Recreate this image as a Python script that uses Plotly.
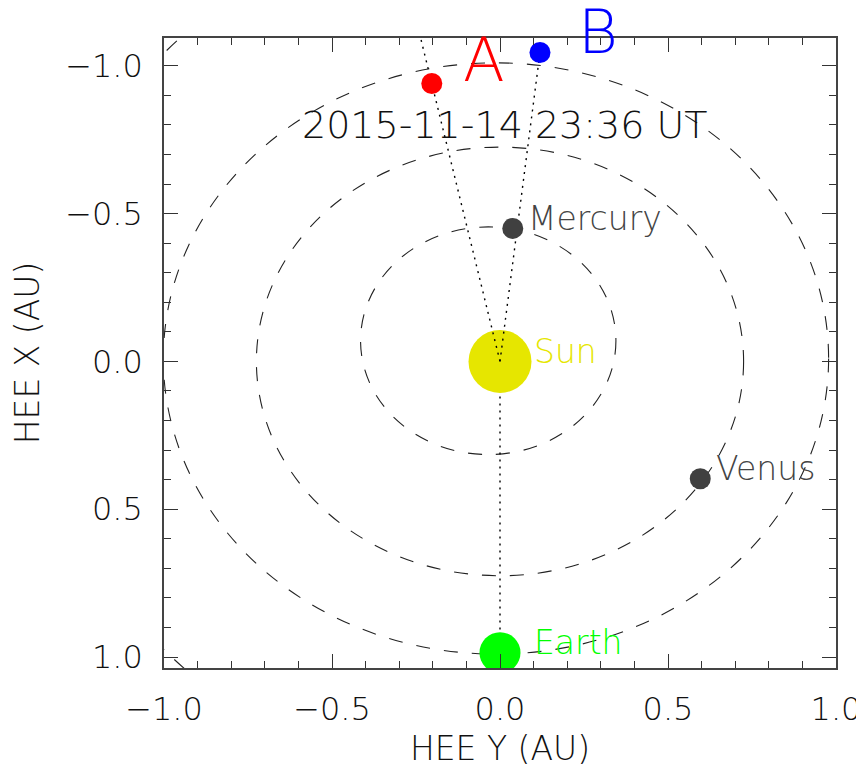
import plotly.graph_objects as go

# ---- data (HEE coordinates, AU) ----
body_names = ["Sun", "Mercury", "Venus", "Earth"]
body_hee_y = [0.0, 0.038, 0.596, 0.0]
body_hee_x = [0.0, -0.450, 0.397, 0.985]

craft_names = ["A", "B"]
craft_hee_y = [-0.203, 0.119]
craft_hee_x = [-0.940, -1.045]

orbit_names = ["Mercury", "Venus", "Earth", "Mars"]
orbit_center_y = [-0.035, 0.0, -0.012, 0.138]
orbit_center_x = [-0.070, 0.0, -0.010, -0.034]
orbit_radius_y = [0.380, 0.725, 0.990, 1.524]
orbit_radius_x = [0.385, 0.725, 1.000, 1.517]

date_label = "2015-11-14 23:36 UT"
tick_vals = [-1.0, -0.5, 0.0, 0.5, 1.0]

# ---- styles ----
FONT = "DejaVu Sans"
WEIGHT = 200
body_colors = ["#e6e600", "#404040", "#404040", "#00ff00"]
body_sizes = [63, 21, 21, 41]
label_colors = ["#e6e600", "#444444", "#444444", "#00ff00"]
label_xshift = [32, 13, 14, 32]
craft_colors = ["#ff0000", "#0000ff"]
craft_label_xshift = [52, 58]
craft_label_yshift = [24, 21]

fig = go.Figure()

# Sun-Earth line (under the Sun)
e = body_names.index("Earth")
fig.add_trace(go.Scatter(x=[0, body_hee_y[e]], y=[0, body_hee_x[e]], mode="lines",
                         line=dict(color="black", width=1.4, dash="2px,5px"),
                         hoverinfo="skip", showlegend=False))

# Sun and Earth
for i in (0, 3):
    fig.add_trace(go.Scatter(x=[body_hee_y[i]], y=[body_hee_x[i]], mode="markers",
                             marker=dict(size=body_sizes[i], color=body_colors[i], line=dict(width=0)),
                             showlegend=False))

# Sun-spacecraft lines (extended beyond the spacecraft, clipped by the axes)
ext = [1.3, 1.0]
for k in range(len(craft_names)):
    fig.add_trace(go.Scatter(x=[0, craft_hee_y[k] * ext[k]], y=[0, craft_hee_x[k] * ext[k]],
                             mode="lines", line=dict(color="black", width=1.4, dash="2px,5px"),
                             hoverinfo="skip", showlegend=False))

# Mercury and Venus
for i in (1, 2):
    fig.add_trace(go.Scatter(x=[body_hee_y[i]], y=[body_hee_x[i]], mode="markers",
                             marker=dict(size=body_sizes[i], color=body_colors[i], line=dict(width=0)),
                             showlegend=False))

# spacecraft
for k in range(len(craft_names)):
    fig.add_trace(go.Scatter(x=[craft_hee_y[k]], y=[craft_hee_x[k]], mode="markers",
                             marker=dict(size=21, color=craft_colors[k], line=dict(width=0)),
                             cliponaxis=False, showlegend=False))

# orbits
shapes = []
for j in range(len(orbit_names)):
    shapes.append(dict(type="circle", xref="x", yref="y", layer="below",
                       x0=orbit_center_y[j] - orbit_radius_y[j], x1=orbit_center_y[j] + orbit_radius_y[j],
                       y0=orbit_center_x[j] - orbit_radius_x[j], y1=orbit_center_x[j] + orbit_radius_x[j],
                       line=dict(color="#222222", width=1.1, dash="14px,14px")))

annotations = []
for i, name in enumerate(body_names):
    annotations.append(dict(x=body_hee_y[i], y=body_hee_x[i], xref="x", yref="y", text=name,
                            showarrow=False, xanchor="left", yanchor="middle",
                            xshift=label_xshift[i], yshift=10,
                            font=dict(family=FONT, size=33, color=label_colors[i], weight=WEIGHT)))
for k, name in enumerate(craft_names):
    annotations.append(dict(x=craft_hee_y[k], y=craft_hee_x[k], xref="x", yref="y", text=name,
                            showarrow=False, xanchor="center", yanchor="middle",
                            xshift=craft_label_xshift[k], yshift=craft_label_yshift[k],
                            font=dict(family=FONT, size=61, color=craft_colors[k], weight=WEIGHT)))
annotations.append(dict(x=0.507, y=0.862, xref="paper", yref="paper", text=date_label,
                        showarrow=False, xanchor="center", yanchor="middle",
                        font=dict(family=FONT, size=38, color="#111111", weight=WEIGHT)))

axis_common = dict(
    showgrid=False, zeroline=False, showline=True, linecolor="#444444", linewidth=1.5,
    mirror="ticks", ticks="inside", ticklen=14, tickwidth=1.2, tickcolor="#333333",
    tickvals=tick_vals, tickformat=".1f", automargin=False,
    minor=dict(dtick=0.1, ticks="inside", ticklen=7, tickwidth=1.2, tickcolor="#333333", showgrid=False),
    tickfont=dict(family=FONT, size=32, color="#111111", weight=WEIGHT),
    title_font=dict(family=FONT, size=33, color="#111111", weight=WEIGHT),
)

# the page adds an 8 px body margin, so the figure is drawn 8 px smaller
fig.update_layout(
    width=856, height=763,
    margin=dict(l=156, r=28, t=30, b=103),
    paper_bgcolor="white", plot_bgcolor="white",
    xaxis=dict(range=[-1.0, 1.0], title=dict(text="HEE Y (AU)", standoff=10),
               ticklabelstandoff=12, **axis_common),
    yaxis=dict(range=[1.037, -1.094], title=dict(text="HEE X (AU)", standoff=22),
               ticklabelstandoff=13, **axis_common),
    shapes=shapes, annotations=annotations, showlegend=False,
)

fig.write_html("out.html")
